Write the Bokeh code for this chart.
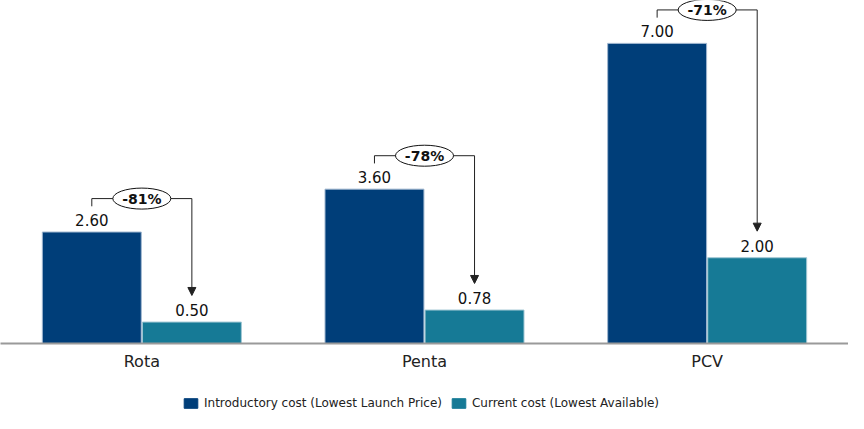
from bokeh.plotting import figure
from bokeh.models import ColumnDataSource, Legend, LegendItem, Arrow, NormalHead, Range1d, FactorRange
from bokeh.layouts import column
from bokeh.transform import dodge
from bokeh.core.properties import value
from bokeh.embed import file_html
from bokeh.resources import INLINE

categories = ["Rota", "Penta", "PCV"]
introductory = [2.60, 3.60, 7.00]
current = [0.50, 0.78, 2.00]
change_labels = ["-81%", "-78%", "-71%"]
series_names = ["Introductory cost (Lowest Launch Price)", "Current cost (Lowest Available)"]

C_INTRO = "#003E79"
C_CUR = "#167A96"
FONT = "DejaVu Sans"

OFF = 0.177
BW = 0.35

p = figure(x_range=FactorRange(*categories, range_padding=0), y_range=Range1d(0, 8.0),
           width=848, height=380, output_backend="svg", toolbar_location=None,
           min_border_left=0, min_border_right=0, min_border_top=0, min_border_bottom=37)

src = ColumnDataSource(dict(cat=categories, intro=introductory, cur=current,
                            intro_lbl=[f"{v:.2f}" for v in introductory],
                            cur_lbl=[f"{v:.2f}" for v in current]))

r1 = p.vbar(x=dodge("cat", -OFF, range=p.x_range), top="intro", width=BW, source=src,
            fill_color=C_INTRO, line_color="#9fb6cf", line_width=1)
r2 = p.vbar(x=dodge("cat", OFF, range=p.x_range), top="cur", width=BW, source=src,
            fill_color=C_CUR, line_color="#9fc6d3", line_width=1)

p.text(x=dodge("cat", -OFF, range=p.x_range), y="intro", text="intro_lbl", source=src,
       text_align="center", text_baseline="bottom", y_offset=-6,
       text_font=value(FONT), text_font_size="15px", text_color="#111111")
p.text(x=dodge("cat", OFF, range=p.x_range), y="cur", text="cur_lbl", source=src,
       text_align="center", text_baseline="bottom", y_offset=-6,
       text_font=value(FONT), text_font_size="15px", text_color="#111111")

# annotation brackets
idx = [i + 0.5 for i in range(len(categories))]
xi = [c - OFF for c in idx]
xc = [c + OFF for c in idx]
top = [v + 0.78 for v in introductory]
tick_bottom = [v + 0.60 for v in introductory]
arrow_end = [v + 0.62 for v in current]

ann = ColumnDataSource(dict(xi=xi, xc=xc, xm=idx, top=top, tb=tick_bottom, ae=arrow_end, lbl=change_labels))
p.segment(x0="xi", y0="tb", x1="xi", y1="top", source=ann, line_color="#222222", line_width=1)
p.segment(x0="xi", y0="top", x1="xc", y1="top", source=ann, line_color="#222222", line_width=1)
p.add_layout(Arrow(end=NormalHead(size=8, fill_color="#222222", line_color="#222222"),
                   x_start="xc", y_start="top", x_end="xc", y_end="ae", source=ann,
                   line_color="#222222", line_width=1))
p.ellipse(x="xm", y="top", width=58, height=21, width_units="screen", height_units="screen",
          source=ann, fill_color="white", line_color="#111111", line_width=1)
p.text(x="xm", y="top", text="lbl", source=ann, text_align="center", text_baseline="middle",
       text_font=value(FONT), text_font_size="14px", text_font_style="bold", text_color="#111111")

# axes
p.yaxis.visible = False
p.xgrid.visible = False
p.ygrid.visible = False
p.outline_line_color = None
xa = p.xaxis[0]
xa.axis_line_color = "#9a9a9a"
xa.axis_line_width = 2
xa.major_tick_line_color = None
xa.minor_tick_line_color = None
xa.major_label_standoff = 2
xa.major_label_text_font = FONT
xa.major_label_text_font_size = "16px"
xa.major_label_text_color = "#222222"

# legend strip below the chart (swatch renderers kept outside the visible range)
lg = figure(width=848, height=33, output_backend="svg", toolbar_location=None,
            min_border_left=0, min_border_right=0, min_border_top=0, min_border_bottom=0,
            x_range=Range1d(0, 1), y_range=Range1d(0, 1))
lg.axis.visible = False
lg.grid.visible = False
lg.outline_line_color = None
key_src = ColumnDataSource(dict(x=[-5.0], top=[-5.0]))
k1 = lg.vbar(x="x", top="top", bottom=-6.0, width=0.1, source=key_src, fill_color=C_INTRO, line_color=C_INTRO)
k2 = lg.vbar(x="x", top="top", bottom=-6.0, width=0.1, source=key_src, fill_color=C_CUR, line_color=C_CUR)
legend = Legend(items=[LegendItem(label=series_names[0], renderers=[k1]),
                       LegendItem(label=series_names[1], renderers=[k2])],
                orientation="horizontal", location=(182, 3),
                label_text_font=FONT, label_text_font_size="12px", label_text_color="#222222",
                glyph_width=17, glyph_height=12, spacing=8, label_standoff=5,
                padding=2, margin=0, border_line_color=None, background_fill_alpha=0)
lg.add_layout(legend)

layout = column(p, lg, spacing=0)
open("out.html", "w").write(file_html(layout, INLINE))
